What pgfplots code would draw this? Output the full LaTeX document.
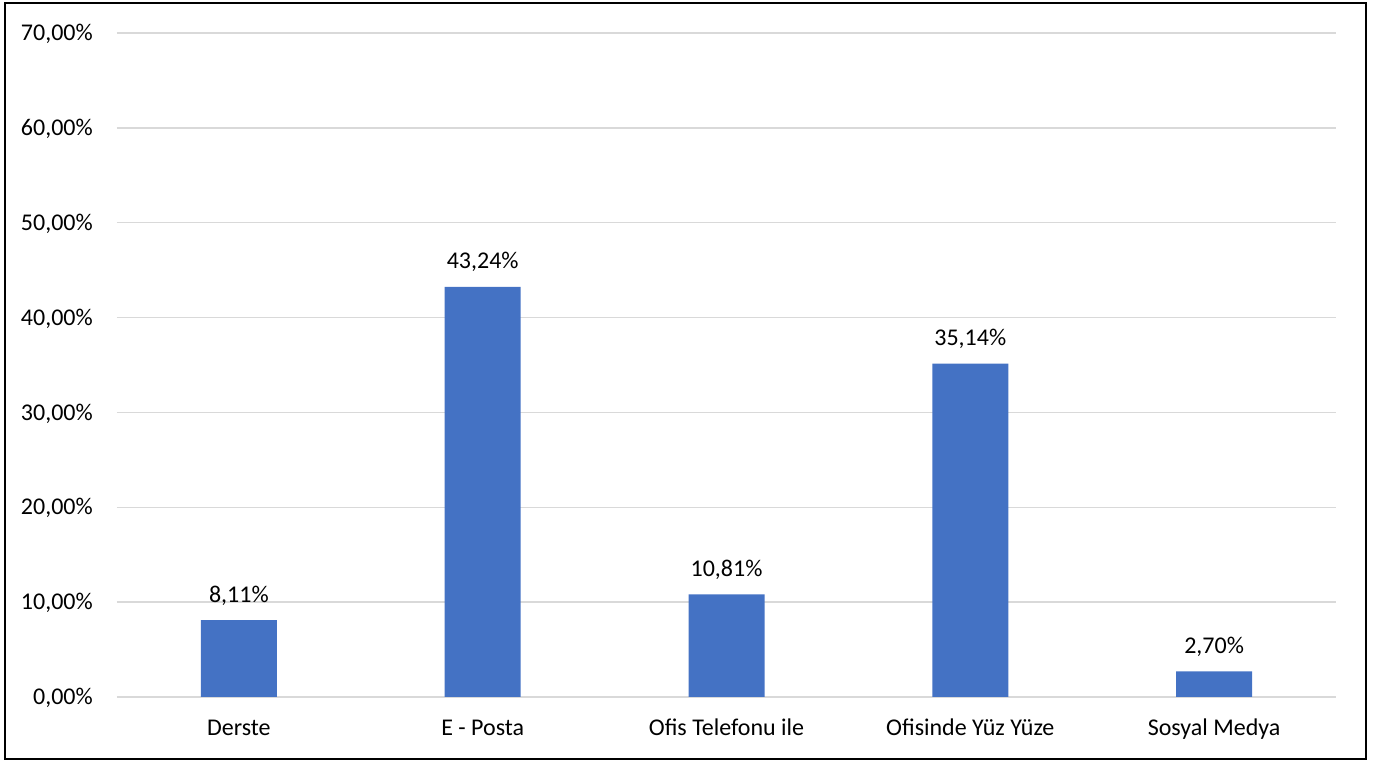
\documentclass[border=0pt]{standalone}
\usepackage{pgfplots}
\pgfplotsset{compat=1.18}
\usepackage{fontspec}
\setmainfont{Carlito}
\definecolor{barblue}{HTML}{4472C4}
\definecolor{gridgray}{HTML}{D9D9D9}
\begin{document}
\fontsize{18}{21}\selectfont
\begin{tikzpicture}
\path (0pt,0pt) rectangle (1031.25pt,570pt);
\draw[line width=1.5pt,black] (3.75pt,1.1pt) rectangle (1024.5pt,567.75pt);
\begin{axis}[
  at={(87.75pt,47.25pt)}, anchor=south west,
  scale only axis,
  width=914.25pt, height=498pt,
  xmin=-0.5, xmax=4.5,
  ymin=0, ymax=70,
  xtick={0,1,2,3,4},
  xticklabels={Derste, E - Posta, Ofis Telefonu ile, Ofisinde Yüz Yüze, Sosyal Medya},
  ytick={0,10,20,30,40,50,60,70},
  yticklabels={{0,00\%},{10,00\%},{20,00\%},{30,00\%},{40,00\%},{50,00\%},{60,00\%},{70,00\%}},
  axis line style={draw=none},
  major tick length=0pt,
  tick style={draw=none},
  ymajorgrids,
  grid style={gridgray, line width=1.1pt},
  yticklabel style={anchor=base east, inner sep=0pt, xshift=-18pt, yshift=-5.7pt, font=\fontsize{18}{21}\selectfont},
  xticklabel style={anchor=base, inner sep=0pt, yshift=-29.25pt, font=\fontsize{18}{21}\selectfont},
  ybar, bar width=57pt,
  nodes near coords={\pgfmathprintnumber[fixed,zerofill,precision=2,use comma,assume math mode=true]{\pgfplotspointmeta}\%},
  nodes near coords style={anchor=base, inner sep=0pt, yshift=13.5pt, font=\fontsize{18}{21}\selectfont, black},
  clip=false,
]
\addplot[fill=barblue, draw=none] coordinates {(0,8.11) (1,43.24) (2,10.81) (3,35.14) (4,2.70)};
\end{axis}
\end{tikzpicture}
\end{document}
